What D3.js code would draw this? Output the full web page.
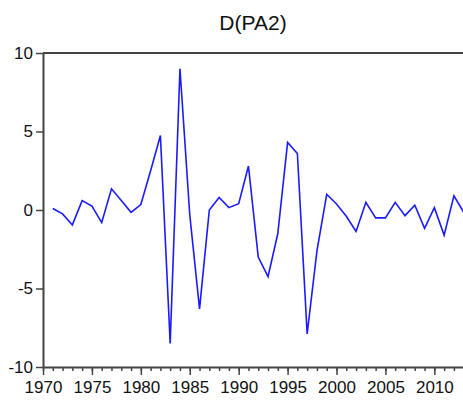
<!DOCTYPE html>
<html>
<head>
<meta charset="utf-8">
<script src="https://cdn.jsdelivr.net/npm/d3@7"></script>
<style>
  html, body { margin: 0; padding: 0; background: #fff; }
  svg { display: block; font-family: "Liberation Sans", Arial, sans-serif; }
</style>
</head>
<body>
<svg id="chart" width="463" height="402"></svg>
<script>
const title = "D(PA2)";
const years = d3.range(1971, 2014);
const values = [
  0.1, -0.25, -0.95, 0.6, 0.25, -0.8, 1.35, 0.6, -0.15, 0.35,
  2.5, 4.75, -8.5, 9.0, -0.3, -6.3, 0.0, 0.8, 0.15, 0.4,
  2.8, -3.0, -4.25, -1.5, 4.3, 3.6, -7.9, -2.6, 1.0, 0.38,
  -0.4, -1.37, 0.49, -0.5, -0.5, 0.49, -0.36, 0.3, -1.17, 0.15,
  -1.6, 0.9, -0.15
];
const yTicks = [-10, -5, 0, 5, 10];
const xTicks = [1970, 1975, 1980, 1985, 1990, 1995, 2000, 2005, 2010];

const svg = d3.select("#chart");
const axisColor = "#444";

const x = d3.scaleLinear().domain([1970, 2013]).range([43, 463.7]);
const y = d3.scaleLinear().domain([-10, 10]).range([367, 53]);

svg.append("text")
  .attr("x", 253)
  .attr("y", 30)
  .attr("text-anchor", "middle")
  .attr("font-size", 21)
  .attr("fill", "#111")
  .text(title);

// top border of the frame
svg.append("line")
  .attr("x1", x(1970)).attr("x2", x(2013) + 2)
  .attr("y1", y(10)).attr("y2", y(10))
  .attr("stroke", axisColor).attr("stroke-width", 2);

// series
const line = d3.line()
  .x((d, i) => x(years[i]))
  .y((d) => y(d));

svg.append("path")
  .datum(values)
  .attr("fill", "none")
  .attr("stroke", "#1a1aff")
  .attr("stroke-width", 1.6)
  .attr("d", line);

// y axis
const gy = svg.append("g")
  .attr("transform", `translate(${x(1970)},0)`)
  .call(d3.axisLeft(y).tickValues(yTicks).tickSize(7).tickPadding(3).tickSizeOuter(0).tickFormat((d) => String(d)));
gy.select(".domain").attr("stroke", axisColor).attr("stroke-width", 2);
gy.selectAll(".tick line").attr("stroke", axisColor).attr("stroke-width", 1.5);
gy.selectAll("text").attr("font-size", 17).attr("fill", "#111").attr("font-family", "Liberation Sans, Arial, sans-serif");

// x axis: minor yearly ticks
const gxMinor = svg.append("g")
  .attr("transform", `translate(0,${y(-10)})`)
  .call(d3.axisBottom(x).tickValues(d3.range(1970, 2014)).tickSize(4).tickFormat(""));
gxMinor.select(".domain").remove();
gxMinor.selectAll(".tick line").attr("stroke", axisColor).attr("stroke-width", 1.5);

const gx = svg.append("g")
  .attr("transform", `translate(0,${y(-10)})`)
  .call(d3.axisBottom(x).tickValues(xTicks).tickSize(8).tickPadding(6).tickFormat((d) => String(d)).tickSizeOuter(0));
gx.select(".domain").attr("stroke", axisColor).attr("stroke-width", 2);
gx.selectAll(".tick line").attr("stroke", axisColor).attr("stroke-width", 1.5);
gx.selectAll("text").attr("font-size", 17).attr("fill", "#111").attr("font-family", "Liberation Sans, Arial, sans-serif");
</script>
</body>
</html>
